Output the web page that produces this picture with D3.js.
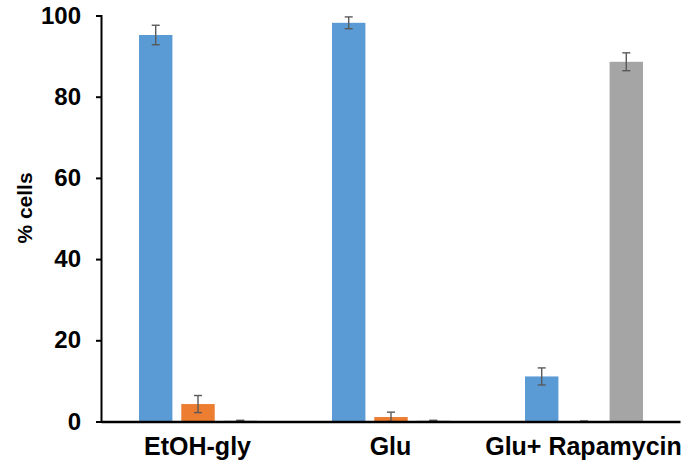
<!DOCTYPE html>
<html>
<head>
<meta charset="utf-8">
<script src="https://cdn.jsdelivr.net/npm/d3@7"></script>
<style>
  body { margin: 0; background: #fff; }
  text { font-family: "Liberation Sans", Arial, sans-serif; font-weight: bold; }
</style>
</head>
<body>
<svg id="chart"></svg>
<script>
const width = 699;
const height = 471;

const categories = ['EtOH-gly', 'Glu', 'Glu+ Rapamycin'];
const series = ['s1', 's2', 's3'];
const colors = ['#5B9BD5', '#ED7D31', '#A5A5A5'];
// mean values per series, one entry per category
const blueVals = [95.2, 98.2, 11.1];
const orangeVals = [4.3, 1.1, 0.0];
const grayVals = [0.2, 0.2, 88.6];
// error bar half-heights
const blueErr = [2.4, 1.45, 2.1];
const orangeErr = [2.1, 1.2, 0.1];
const grayErr = [0.1, 0.1, 2.2];
const yTicks = [0, 20, 40, 60, 80, 100];

const vals = [blueVals, orangeVals, grayVals];
const errs = [blueErr, orangeErr, grayErr];

const svg = d3.select('#chart')
    .attr('width', width)
    .attr('height', height);

const x0 = d3.scaleBand().domain(categories).range([101, 680]).padding(0);
const x1 = d3.scaleBand().domain(series).range([38, 156]).paddingInner(0.21).paddingOuter(0);
const y = d3.scaleLinear().domain([0, 100]).range([421.5, 15.5]);

const rows = [];
categories.forEach((c, i) => {
    series.forEach((s, j) => {
        rows.push({cat: c, ser: s, value: vals[j][i], err: errs[j][i], color: colors[j]});
    });
});

// bars
svg.append('g').selectAll('rect').data(rows).enter().append('rect')
    .attr('x', d => x0(d.cat) + x1(d.ser))
    .attr('y', d => y(d.value))
    .attr('width', x1.bandwidth())
    .attr('height', d => y(0) - y(d.value))
    .attr('fill', d => d.color);

// error bars
const eb = svg.append('g')
    .attr('stroke', '#595959')
    .attr('stroke-width', 1.4);
rows.forEach(d => {
    const cx = x0(d.cat) + x1(d.ser) + x1.bandwidth() / 2;
    const top = y(d.value + d.err);
    const bot = y(Math.max(0, d.value - d.err));
    eb.append('line').attr('x1', cx).attr('x2', cx).attr('y1', top).attr('y2', bot);
    eb.append('line').attr('x1', cx - 4).attr('x2', cx + 4).attr('y1', top).attr('y2', top);
    eb.append('line').attr('x1', cx - 4).attr('x2', cx + 4).attr('y1', bot).attr('y2', bot);
});

// y axis
const yAxis = svg.append('g')
    .attr('transform', 'translate(101,0)')
    .call(d3.axisLeft(y).tickValues(yTicks).tickSize(5).tickPadding(15));
yAxis.select('.domain').attr('stroke', '#000').attr('stroke-width', 2);
yAxis.selectAll('.tick line').attr('stroke', '#000').attr('stroke-width', 2);
yAxis.selectAll('.tick text')
    .attr('font-size', 24)
    .attr('fill', '#000')
    .attr('font-family', '"Liberation Sans", Arial, sans-serif')
    .attr('font-weight', 'bold');

// x axis
const xAxis = svg.append('g')
    .attr('transform', `translate(0,${y(0)})`)
    .call(d3.axisBottom(x0).tickSize(0).tickPadding(16));
xAxis.select('.domain').attr('stroke', '#000').attr('stroke-width', 2.5);
xAxis.selectAll('.tick text')
    .attr('font-size', 25)
    .attr('fill', '#000')
    .attr('font-family', '"Liberation Sans", Arial, sans-serif')
    .attr('font-weight', 'bold');

// y label
svg.append('text')
    .attr('transform', 'translate(32,208) rotate(-90)')
    .attr('text-anchor', 'middle')
    .attr('font-size', 21)
    .attr('fill', '#000')
    .text('% cells');
</script>
</body>
</html>
